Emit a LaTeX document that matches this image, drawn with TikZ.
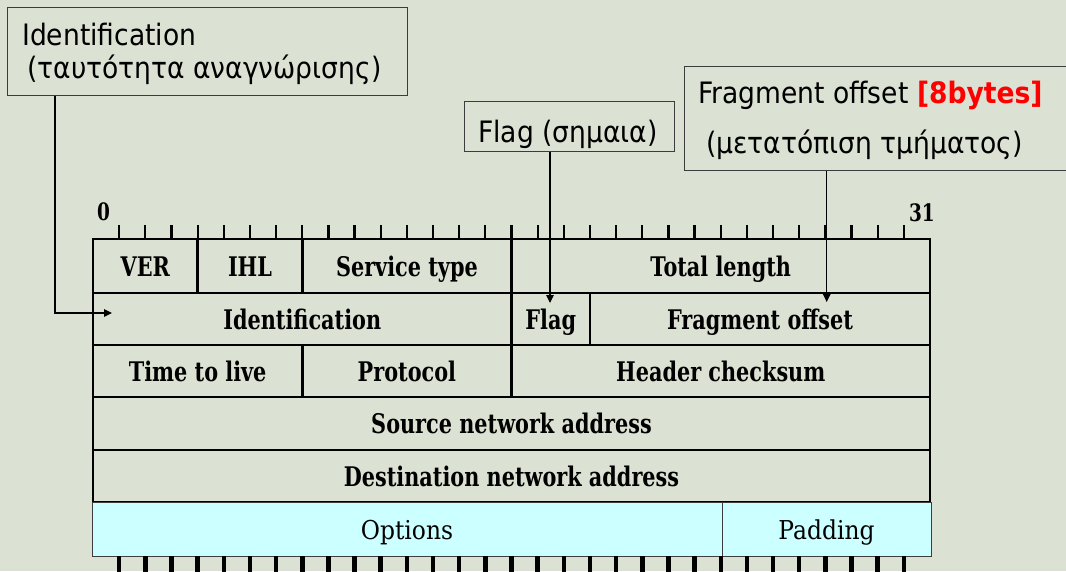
\documentclass[tikz,border=0pt]{standalone}
\usepackage{fontspec}
\usetikzlibrary{arrows.meta}
\newfontfamily\lblfont[FakeStretch=0.9]{DejaVu Sans}
\newfontfamily\tabfont[FakeStretch=0.77]{DejaVu Serif}
\newfontfamily\optfont[FakeStretch=0.9]{DejaVu Serif}
\definecolor{bg}{RGB}{219,226,211}
\definecolor{optfill}{RGB}{204,255,255}
\definecolor{boxline}{RGB}{60,60,60}
\begin{document}
\begin{tikzpicture}[x=1pt,y=-1pt,
  cell/.style={draw=black, line width=2.5pt, inner sep=0pt, text height=20pt, text depth=0pt,
    font=\tabfont\bfseries\fontsize{27}{30}\selectfont},
  optcell/.style={draw=boxline, fill=optfill, line width=1pt, inner sep=0pt, text height=20pt, text depth=0pt,
    font=\optfont\fontsize{26}{29}\selectfont},
  callout/.style={draw=boxline, line width=1.2pt, inner sep=0pt, anchor=north west},
  lbl/.style={inner sep=0pt, anchor=base west, font=\lblfont\fontsize{29.5}{34}\selectfont},
  bitlbl/.style={inner sep=0pt, font=\tabfont\bfseries\fontsize{24}{26}\selectfont},
  conn/.style={line width=1.2pt, draw=black, -{Triangle[length=8pt,width=7.5pt]}},
  toptick/.style={line width=2.2pt},
  bottick/.style={line width=4.5pt}]
\useasboundingbox[fill=bg] (0,0) rectangle (1066,571);

% ---- table ----
\node[cell, minimum width=104.6pt, minimum height=54pt] (ver) at (145.3,266) {VER};
\node[cell, minimum width=104.7pt, minimum height=54pt] (ihl) at (250,266) {IHL};
\node[cell, minimum width=209.2pt, minimum height=54pt] (svc) at (406.9,266) {Service type};
\node[cell, minimum width=418.5pt, minimum height=54pt] (tot) at (720.75,266) {Total length};

\node[cell, minimum width=418.5pt, minimum height=52pt] (ident) at (302.25,319) {Identification};
\node[cell, minimum width=78.5pt, minimum height=52pt] (flag) at (550.75,319) {Flag};
\node[cell, minimum width=340pt, minimum height=52pt] (frag) at (760,319) {Fragment offset};

\node[cell, minimum width=209.3pt, minimum height=52pt] (ttl) at (197.65,371) {Time to live};
\node[cell, minimum width=209.2pt, minimum height=52pt] (proto) at (406.9,371) {Protocol};
\node[cell, minimum width=418.5pt, minimum height=52pt] (hck) at (720.75,371) {Header checksum};

\node[cell, minimum width=837pt, minimum height=53pt] (src) at (511.5,423.5) {Source network address};
\node[cell, minimum width=837pt, minimum height=52pt] (dst) at (511.5,476) {Destination network address};

\node[optcell, minimum width=630pt, minimum height=54pt] (opt) at (407,529) {Options};
\node[optcell, minimum width=209pt, minimum height=54pt] (pad) at (826.5,529) {Padding};

% ---- bit ruler ----
\foreach \k in {1,...,31} {
  \draw[toptick] ({93+26.156*\k},225) -- ({93+26.156*\k},239);
  \draw[bottick] ({93+26.156*\k},556) -- ({93+26.156*\k},575);
}
\node[bitlbl, anchor=base west] (b0) at (97,220) {0};
\node[bitlbl, anchor=base east] (b31) at (935,221) {31};

% ---- callouts ----
\node[callout, minimum width=400pt, minimum height=88pt] (idbox) at (7,7) {};
\node[lbl] (idtxt1) at (22,45) {Identification};
\node[lbl] (idtxt2) at (27,78) {(ταυτότητα αναγνώρισης)};

\node[callout, minimum width=210pt, minimum height=50pt] (flagbox) at (464,101) {};
\node[lbl] (flagtxt) at (478,142) {Flag (σημαια)};

\node[callout, minimum width=400pt, minimum height=104pt] (fragbox) at (684,66) {};
\node[lbl] (fragtxt1) at (698,103) {Fragment offset {\bfseries\color{red}[8bytes]}};
\node[lbl] (fragtxt2) at (706,153) {(μετατόπιση τμήματος)};

% ---- connectors ----
\coordinate (idbend) at (55,313);
\coordinate (idtip) at (112,313);
\coordinate (flagtip) at (550,303);
\coordinate (fragtip) at (826.7,302);
\draw[conn] (idbox.south -| idbend) -- (idbend) -- (idtip);
\draw[conn] (flagbox.south -| flagtip) -- (flagtip);
\draw[conn] (fragbox.south -| fragtip) -- (fragtip);
\end{tikzpicture}
\end{document}
